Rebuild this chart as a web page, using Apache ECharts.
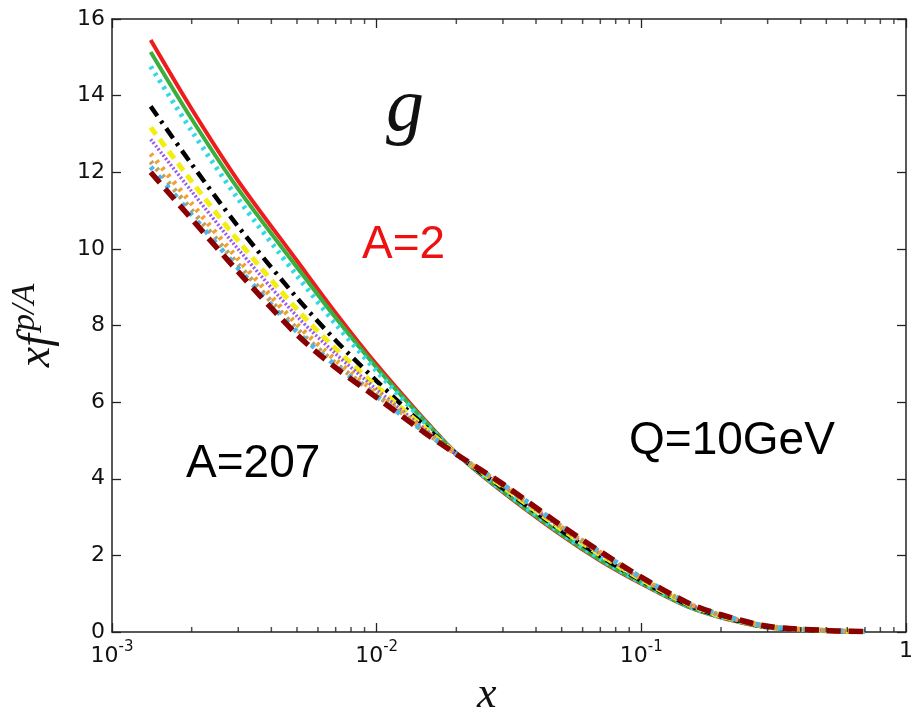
<!DOCTYPE html>
<html>
<head>
<meta charset="utf-8">
<script src="https://cdn.jsdelivr.net/npm/echarts@6/dist/echarts.min.js"></script>
<style>
html,body{margin:0;padding:0;background:#fff;}
#chart{width:916px;height:723px;}
</style>
</head>
<body>
<div id="chart"></div>
<script>
// x grid (momentum fraction)
const xValues = [0.0014, 0.002, 0.003, 0.005, 0.007, 0.01, 0.015, 0.02, 0.03, 0.05, 0.07, 0.1, 0.15, 0.2, 0.3, 0.5, 0.7];

// x f^{p/A} for gluon, per nucleus (A=2 ... A=207)
const seriesA2   = [15.45, 13.65, 11.77, 9.69, 8.33, 6.98, 5.58, 4.66, 3.65, 2.52, 1.86, 1.26, 0.66, 0.38, 0.12, 0.03, 0.01];
const seriesG    = [15.14, 13.39, 11.56, 9.52, 8.20, 6.90, 5.55, 4.66, 3.67, 2.54, 1.88, 1.28, 0.67, 0.39, 0.12, 0.03, 0.01];
const seriesC    = [14.76, 13.08, 11.30, 9.30, 8.04, 6.81, 5.51, 4.66, 3.69, 2.57, 1.91, 1.29, 0.68, 0.39, 0.13, 0.03, 0.01];
const seriesK    = [13.72, 12.21, 10.58, 8.72, 7.61, 6.55, 5.41, 4.65, 3.75, 2.64, 1.98, 1.34, 0.71, 0.41, 0.13, 0.03, 0.01];
const seriesY    = [13.17, 11.76, 10.21, 8.42, 7.39, 6.41, 5.36, 4.65, 3.79, 2.68, 2.02, 1.37, 0.73, 0.42, 0.14, 0.04, 0.01];
const seriesP    = [12.86, 11.50, 9.99, 8.24, 7.26, 6.33, 5.33, 4.64, 3.81, 2.71, 2.04, 1.39, 0.74, 0.43, 0.14, 0.04, 0.01];
const seriesO    = [12.48, 11.18, 9.73, 8.03, 7.10, 6.24, 5.28, 4.64, 3.83, 2.73, 2.07, 1.41, 0.75, 0.44, 0.15, 0.04, 0.01];
const seriesT    = [12.28, 11.01, 9.59, 7.91, 7.01, 6.19, 5.26, 4.64, 3.84, 2.75, 2.08, 1.42, 0.75, 0.44, 0.15, 0.04, 0.01];
const seriesB    = [12.14, 10.89, 9.49, 7.84, 6.96, 6.15, 5.25, 4.64, 3.85, 2.76, 2.09, 1.42, 0.76, 0.45, 0.15, 0.04, 0.01];
const seriesA207 = [12.00, 10.78, 9.40, 7.76, 6.90, 6.12, 5.23, 4.64, 3.86, 2.77, 2.10, 1.43, 0.76, 0.45, 0.15, 0.04, 0.01];

// ticks
const yTicks = [0, 2, 4, 6, 8, 10, 12, 14, 16];
const xMinorTicks = [0.002,0.003,0.004,0.005,0.006,0.007,0.008,0.009,
                     0.02,0.03,0.04,0.05,0.06,0.07,0.08,0.09,
                     0.2,0.3,0.4,0.5,0.6,0.7,0.8,0.9];

const styles = [
  {d: seriesA2,   color:'#ee1c1c', width:4,   type:'solid'},
  {d: seriesG,    color:'#3cae3c', width:4,   type:'solid'},
  {d: seriesC,    color:'#30d8e8', width:5,   type:[3,5]},
  {d: seriesK,    color:'#000000', width:4.5, type:[12,6,3,6]},
  {d: seriesY,    color:'#f2ee10', width:5,   type:[9,6]},
  {d: seriesP,    color:'#9a5cf0', width:3.5, type:[2,2]},
  {d: seriesO,    color:'#f0a030', width:5,   type:[3,6]},
  {d: seriesT,    color:'#c0a060', width:5,   type:[3,6]},
  {d: seriesB,    color:'#4ab8e8', width:5,   type:[4,8]},
  {d: seriesA207, color:'#8b0000', width:5.5, type:[14,8]}
];

const lineSeries = styles.map((s, i) => ({
  type: 'line',
  xAxisIndex: 0, yAxisIndex: 0,
  data: xValues.map((x, j) => [x, s.d[j]]),
  showSymbol: false,
  smooth: 0.3,
  lineStyle: {color: s.color, width: s.width, type: s.type, cap:'butt'},
  z: 2 + i,
  silent: true
}));

const minorBottom = {
  type:'scatter', xAxisIndex:0, yAxisIndex:0,
  data: xMinorTicks.map(x => [x, 0]),
  symbol: 'rect', symbolSize:[1.5,5], symbolOffset:[0,-2.5],
  itemStyle:{color:'#222'}, clip:false, silent:true, z:20
};
const minorTop = {
  type:'scatter', xAxisIndex:0, yAxisIndex:0,
  data: xMinorTicks.map(x => [x, 16]),
  symbol: 'rect', symbolSize:[1.5,5], symbolOffset:[0,2.5],
  itemStyle:{color:'#222'}, clip:false, silent:true, z:20
};

function xFmt(v){
  const e = Math.round(Math.log10(v));
  if (e === 0) return '{b|1}';
  return '{b|10}{s|' + e + '}';
}

const axisLineStyle = {color:'#222', width:1.5};
const chart = echarts.init(document.getElementById('chart'), null, {renderer:'canvas'});
chart.setOption({
  backgroundColor:'#ffffff',
  animation:false,
  grid:{left:108, right:7, top:19, bottom:91},
  xAxis:[
    {type:'log', logBase:10, min:0.001, max:1, position:'bottom',
     axisLine:{show:true, lineStyle:axisLineStyle, onZero:false},
     axisTick:{show:true, inside:true, length:9, lineStyle:{color:'#222', width:1.3}},
     splitLine:{show:false},
     axisLabel:{margin:8, formatter:xFmt,
       rich:{b:{fontFamily:'DejaVu Sans', fontSize:22, color:'#111', verticalAlign:'bottom'},
             s:{fontFamily:'DejaVu Sans', fontSize:15, color:'#111', verticalAlign:'top', padding:[0,0,12,0]}}}
    },
    {type:'log', logBase:10, min:0.001, max:1, position:'top',
     axisLine:{show:true, lineStyle:axisLineStyle, onZero:false},
     axisTick:{show:true, inside:true, length:9, lineStyle:{color:'#222', width:1.3}},
     axisLabel:{show:false}, splitLine:{show:false}}
  ],
  yAxis:[
    {type:'value', min:0, max:16, interval:2, position:'left',
     axisLine:{show:true, lineStyle:axisLineStyle, onZero:false},
     axisTick:{show:true, inside:true, length:9, lineStyle:{color:'#222', width:1.3}},
     splitLine:{show:false},
     axisLabel:{margin:7, fontFamily:'DejaVu Sans', fontSize:22, color:'#111',
       formatter: v => yTicks.includes(v) ? String(v) : ''},
     name:'{i|xf}{s|p/A}', nameLocation:'middle', nameGap:52, nameRotate:90,
     nameTextStyle:{rich:{
       i:{fontFamily:'Liberation Serif', fontStyle:'italic', fontSize:46, color:'#111', verticalAlign:'bottom'},
       s:{fontFamily:'Liberation Serif', fontStyle:'italic', fontSize:34, color:'#111', verticalAlign:'top', padding:[0,0,18,3]}}}
    },
    {type:'value', min:0, max:16, interval:2, position:'right',
     axisLine:{show:true, lineStyle:axisLineStyle, onZero:false},
     axisTick:{show:true, inside:true, length:9, lineStyle:{color:'#222', width:1.3}},
     axisLabel:{show:false}, splitLine:{show:false}}
  ],
  series: lineSeries.concat([minorBottom, minorTop]),
  graphic:[
    {type:'text', left:386, top:72, style:{text:'g', font:'italic 76px "Liberation Serif"', fill:'#111'}},
    {type:'text', left:362, top:222, style:{text:'A=2', font:'46px "Liberation Sans"', fill:'#ee1111'}},
    {type:'text', left:186, top:441, style:{text:'A=207', font:'46px "Liberation Sans"', fill:'#000'}},
    {type:'text', left:629, top:418, style:{text:'Q=10GeV', font:'46px "Liberation Sans"', fill:'#000'}},
    {type:'text', left:477, top:673, style:{text:'x', font:'italic 44px "Liberation Serif"', fill:'#111'}}
  ]
});
</script>
</body>
</html>
